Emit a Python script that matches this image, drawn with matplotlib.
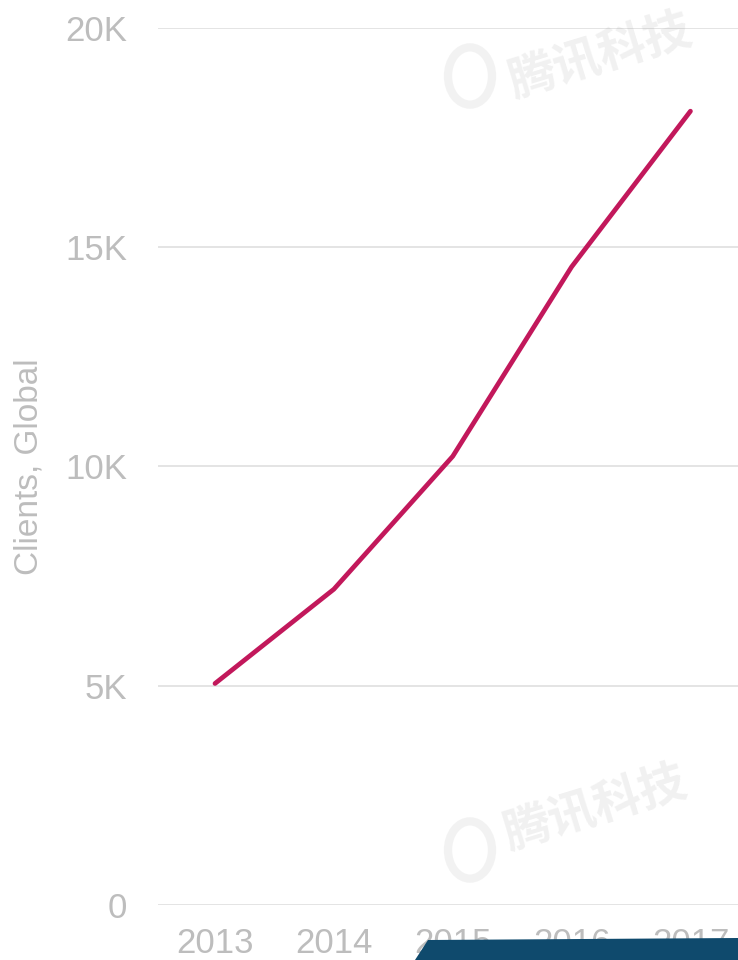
import matplotlib.pyplot as plt
from matplotlib.patches import Polygon, Circle

years = [2013, 2014, 2015, 2016, 2017]
clients = [5050, 7200, 10230, 14550, 18100]
yticks = [0, 5000, 10000, 15000, 20000]
ylabels = ['0', '5K', '10K', '15K', '20K']

plt.rcParams['font.family'] = ['Liberation Sans', 'DejaVu Sans']

fig = plt.figure(figsize=(7.38, 9.6), dpi=100)
ax = fig.add_axes([0.214, 0.0573, 0.786, 0.9137])

ax.plot(years, clients, color='#c2185b', lw=3.4, solid_capstyle='round', zorder=3)

ax.set_xlim(2012.52, 2017.40)
ax.set_ylim(0, 20000)
ax.set_yticks(yticks)
ax.set_yticklabels(ylabels)
ax.set_xticks(years)
ax.grid(axis='y', color='#e2e2e2', lw=1.3)
ax.tick_params(axis='y', length=0, pad=22, labelsize=25, labelcolor='#bdbdbd')
ax.tick_params(axis='x', length=0, pad=16, labelsize=25, labelcolor='#bdbdbd')
for s in ax.spines.values():
    s.set_visible(False)
ax.set_ylabel('Clients, Global', fontsize=24, color='#bdbdbd')
ax.yaxis.set_label_coords(-0.195, 0.5)

# watermarks
for (tx, ty, cx, cy) in [(600/738, 1 - 56/960, 470/738, 1 - 76/960),
                         (595/738, 1 - 808/960, 470/738, 1 - 850/960)]:
    fig.text(tx, ty, '腾讯科技', family=['Noto Sans CJK SC', 'DejaVu Sans'],
             fontsize=34, color='#888888', alpha=0.12, rotation=17,
             ha='center', va='center', fontweight='bold')
    fig.patches.append(Circle((cx, cy), 22/738, transform=fig.transFigure,
                              facecolor='none', edgecolor='#888888', lw=6,
                              alpha=0.1))

# dark overlay at bottom
fig.patches.append(Polygon([(415/738, 0), (428/738, 20/960), (1.0, 22/960), (1.0, 0)],
                           closed=True, transform=fig.transFigure,
                           facecolor='#0f4a6d', edgecolor='none', zorder=5))

fig.savefig('out.png', dpi=100)
